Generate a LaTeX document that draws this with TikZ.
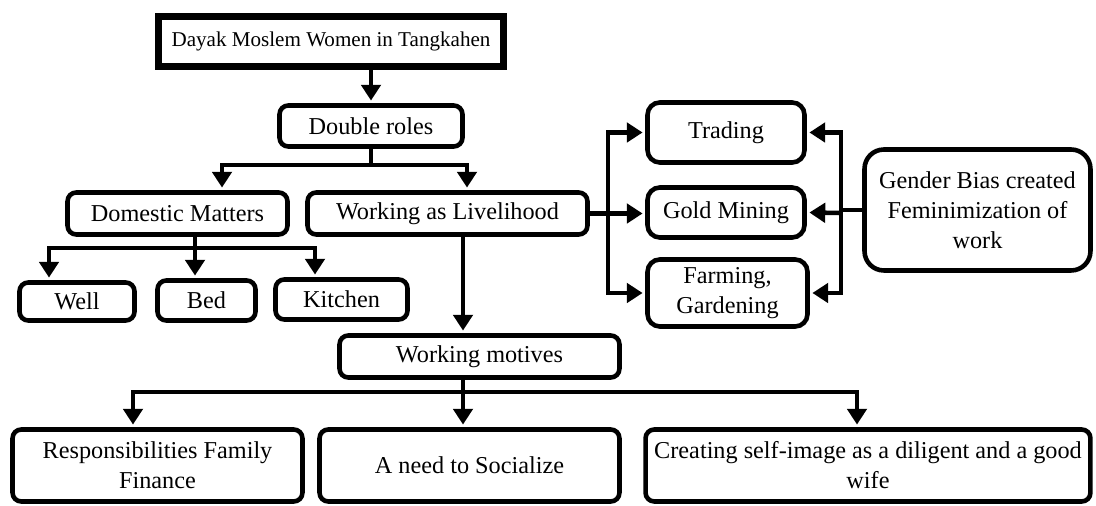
\documentclass[tikz,border=0pt]{standalone}
\usepackage{fontspec}
\setmainfont{Liberation Serif}
\usetikzlibrary{arrows.meta,positioning}

\begin{document}
\begin{tikzpicture}[x=0.02cm, y=-0.02cm,
	box/.style={draw, line width=2.6pt, rounded corners=5pt, align=center, inner sep=1pt, font=\fontsize{13.8}{17}\selectfont},
	wire/.style={line width=2.6pt},
	arr/.style={line width=2.6pt, -{Triangle[width=11pt,length=9pt]}, shorten >=1.5pt}]
	\useasboundingbox (0,0) rectangle (1096,506);

	\node[box, rounded corners=0pt, line width=3.8pt, minimum width=6.9cm, minimum height=1.0cm, font=\fontsize{12}{15}\selectfont] (women) at (331, 41.5) {Dayak Moslem Women in Tangkahen};
	\node[box, minimum width=3.66cm, minimum height=0.82cm] (double) at (371, 126) {Double roles};
	\node[box, minimum width=4.4cm, minimum height=0.84cm] (domestic) at (177.5, 213.5) {Domestic Matters};
	\node[box, minimum width=5.6cm, minimum height=0.84cm] (working) at (447.5, 213.5) {Working as Livelihood};
	\node[box, minimum width=2.3cm, minimum height=0.76cm] (well) at (77, 301.5) {Well};
	\node[box, minimum width=1.96cm, minimum height=0.8cm] (bed) at (206.5, 300.5) {Bed};
	\node[box, minimum width=2.64cm, minimum height=0.8cm] (kitchen) at (341.5, 299.5) {Kitchen};
	\node[box, minimum width=5.6cm, minimum height=0.84cm] (motives) at (479.5, 356.5) {Working motives};
	\node[box, minimum width=5.8cm, minimum height=1.44cm] (finance) at (157.5, 465.5) {Responsibilities Family\\Finance};
	\node[box, minimum width=6.0cm, minimum height=1.44cm] (socialize) at (469.5, 465.5) {A need to Socialize};
	\node[box, minimum width=8.9cm, minimum height=1.44cm] (selfimage) at (868, 465.5) {Creating self-image as a diligent and a good\\wife};
	\node[box, rounded corners=7pt, minimum width=3.14cm, minimum height=1.2cm] (trading) at (726, 132.5) {Trading};
	\node[box, rounded corners=7pt, minimum width=3.14cm, minimum height=1.0cm] (gold) at (726, 212.5) {Gold Mining};
	\node[box, rounded corners=7pt, minimum width=3.2cm, minimum height=1.34cm] (farming) at (727.5, 293) {Farming,\\Gardening};
	\node[box, rounded corners=11pt, minimum width=4.52cm, minimum height=2.42cm] (bias) at (977.5, 210) {Gender Bias created\\Feminimization of\\work};

	% junctions
	\coordinate (j1) at (371, 165);
	\coordinate (j1l) at (222, 165);
	\coordinate (j1r) at (467, 165);
	\coordinate (j2) at (195, 248);
	\coordinate (j2a) at (49, 248);
	\coordinate (j2b) at (195, 248);
	\coordinate (j2c) at (315, 248);
	\coordinate (j3) at (463, 392);
	\coordinate (j3a) at (133, 392);
	\coordinate (j3c) at (857, 392);
	\coordinate (j4) at (608, 213);
	\coordinate (j5) at (841, 213);

	\draw[arr] (women.south -| double.north) -- (double.north);

	\draw[wire] (double.south) -- (j1);
	\draw[wire, line cap=rect] (j1l) -- (j1r);
	\draw[arr] (j1l) -- (j1l |- domestic.north);
	\draw[arr] (j1r) -- (j1r |- working.north);

	\draw[wire] (j2 |- domestic.south) -- (j2);
	\draw[wire, line cap=rect] (j2a) -- (j2c);
	\draw[arr] (j2a) -- (j2a |- well.north);
	\draw[arr] (j2b) -- (j2b |- bed.north);
	\draw[arr] (j2c) -- (j2c |- kitchen.north);

	\draw[arr] (j3 |- working.south) -- (j3 |- motives.north);
	\draw[wire] (j3 |- motives.south) -- (j3);
	\draw[wire, line cap=rect] (j3a) -- (j3c);
	\draw[arr] (j3a) -- (j3a |- finance.north);
	\draw[arr] (j3) -- (j3 |- socialize.north);
	\draw[arr] (j3c) -- (j3c |- selfimage.north);

	\draw[arr] (working.east) -- (working.east -| gold.west);
	\draw[arr] (j4) |- (trading.west);
	\draw[arr] (j4) |- (farming.west);

	\draw[wire] (bias.west) -- (bias.west -| j5);
	\draw[arr] (j5) -- (gold.east);
	\draw[arr] (j5) |- (trading.east);
	\draw[arr] (j5) |- (farming.east);

\end{tikzpicture}
\end{document}
